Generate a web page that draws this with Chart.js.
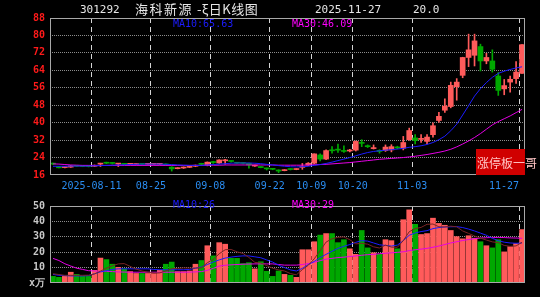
<!DOCTYPE html>
<html>
<head>
<meta charset="utf-8">
<script src="https://cdn.jsdelivr.net/npm/chart.js@4"></script>
<style>
  body { margin: 0; background: #000; width: 540px; height: 297px; overflow: hidden; position: relative; }
  canvas { position: absolute; left: 0; }
  .t { position: absolute; white-space: nowrap; line-height: 1; }
  .mono { font-family: "DejaVu Sans Mono", monospace; }
  .cjk { font-family: "Noto Sans CJK SC", sans-serif; }
</style>
</head>
<body>
<canvas id="kline" width="540" height="195" style="top:0"></canvas>
<canvas id="vol" width="540" height="102" style="top:195px"></canvas>

<div class="t mono" style="left:80px;top:4px;font-size:11px;color:#e6e6e6">301292</div>
<div class="t cjk" style="left:135px;top:2px;font-size:13px;letter-spacing:1.5px;color:#e6e6e6">海科新源</div>
<div class="t cjk" style="left:197px;top:2px;font-size:13px;letter-spacing:0.5px;color:#e6e6e6">-ξ日K线图</div>
<div class="t mono" style="left:315px;top:4px;font-size:11px;color:#e6e6e6">2025-11-27</div>
<div class="t mono" style="left:413px;top:4px;font-size:11px;color:#e6e6e6">20.0</div>

<div class="t mono" style="left:173px;top:19px;font-size:10px;color:#1c1cff">MA10:65.63</div>
<div class="t mono" style="left:292px;top:19px;font-size:10px;color:#ff00ff">MA30:46.09</div>
<div class="t mono" style="left:173px;top:200px;font-size:10px;color:#1c1cff">MA10:26</div>
<div class="t mono" style="left:292px;top:200px;font-size:10px;color:#ff00ff">MA30:29</div>

<div style="position:absolute;left:476px;top:149px;width:49px;height:26px;background:#d00000"></div>
<div class="t cjk" style="left:477px;top:157px;font-size:12px;color:#ffc4c4">涨停板一哥</div>

<script>
// 交易日 (2025-07-31 ~ 2025-11-27)
const dates = [
  '07-31',
  '08-01','08-04','08-05','08-06','08-07','08-08','08-11','08-12','08-13','08-14',
  '08-15','08-18','08-19','08-20','08-21','08-22','08-25','08-26','08-27','08-28','08-29',
  '09-01','09-02','09-03','09-04','09-05','09-08','09-09','09-10','09-11','09-12',
  '09-15','09-16','09-17','09-18','09-19','09-22','09-23','09-24','09-25','09-26','09-29','09-30',
  '10-09','10-10','10-13','10-14','10-15','10-16','10-17','10-20','10-21','10-22','10-23','10-24',
  '10-27','10-28','10-29','10-30','10-31',
  '11-03','11-04','11-05','11-06','11-07','11-10','11-11','11-12','11-13','11-14',
  '11-17','11-18','11-19','11-20','11-21','11-24','11-25','11-26','11-27'
];

const opens = [
  21.3,19.8,19.4,19.6,20.2,20.1,20.0,20.0,21.0,21.7,
  21.6,21.0,21.2,20.9,20.8,21.0,20.9,20.9,20.9,21.0,
  19.6,18.9,19.2,19.5,20.0,21.1,20.4,22.0,21.5,22.5,
  22.4,21.6,21.5,21.4,20.1,19.9,19.1,18.8,18.3,18.0,
  18.7,18.5,19.5,20.5,21.4,25.2,23.3,27.4,27.7,27.0,
  27.0,27.4,30.8,29.4,28.1,27.3,27.2,27.5,28.8,28.3,
  32.2,33.0,32.3,31.4,34.5,41.0,45.7,47.4,56.5,61.7,
  69.9,70.9,74.9,68.3,68.3,61.4,55.5,58.6,60.2,62.6
];
const highs = [
  21.5,20.0,19.8,20.4,20.4,20.2,20.1,20.6,21.4,21.9,
  21.7,21.2,21.3,21.2,21.1,21.1,21.1,21.1,21.2,21.1,
  19.8,19.4,19.7,20.0,20.6,21.4,22.0,22.3,23.0,23.2,
  22.5,21.8,21.6,21.5,20.5,20.0,19.2,18.9,18.4,18.5,
  18.9,18.9,21.3,21.7,25.7,25.7,27.5,29.0,30.2,29.4,
  27.8,31.6,32.2,29.8,29.8,27.6,29.8,29.9,29.2,33.7,
  37.5,34.5,34.5,34.5,39.9,44.7,50.9,58.6,60.2,70.0,
  80.6,80.6,76.0,71.8,73.4,63.0,59.8,61.4,68.0,75.8
];
const lows = [
  20.8,19.2,19.3,19.5,19.9,19.8,19.7,19.9,19.9,21.2,
  21.0,19.9,20.8,20.8,20.7,20.8,20.8,20.8,20.8,20.5,
  17.8,18.8,19.0,19.4,19.8,20.5,20.2,21.3,21.3,21.0,
  21.9,21.3,21.1,19.1,19.9,19.3,18.3,18.4,17.1,17.9,
  18.3,18.4,18.6,20.3,21.1,22.5,23.0,26.0,26.3,26.3,
  26.6,27.0,29.0,28.6,27.9,26.0,26.8,26.6,28.0,27.5,
  31.9,30.3,30.9,30.3,33.4,40.1,44.7,46.8,50.3,60.6,
  65.7,66.0,63.7,67.0,63.2,52.5,52.8,54.0,58.0,62.6
];
const closes = [
  21.0,19.3,19.6,20.2,20.0,19.9,19.9,20.4,21.3,21.4,
  21.3,21.1,20.9,21.0,21.0,20.9,21.0,21.0,21.1,20.6,
  18.8,19.2,19.5,19.8,20.5,20.9,21.9,21.7,22.9,22.6,
  22.2,21.4,21.3,20.6,20.3,19.4,18.8,18.6,17.8,18.3,
  18.5,18.7,19.8,21.4,25.7,23.3,27.2,27.1,27.4,26.8,
  27.2,31.4,30.5,29.0,28.5,26.8,28.8,29.0,28.4,30.9,
  36.4,31.8,32.8,33.4,38.6,42.9,47.6,57.1,58.6,69.9,
  73.4,77.5,68.3,69.9,64.5,54.8,57.0,59.9,63.2,75.8
];

// 均线
const ma10 = [
  20.0,20.0,20.0,20.1,20.1,20.1,20.1,20.2,20.3,20.4,
  20.5,20.6,20.7,20.8,20.9,21.0,21.0,21.0,21.0,20.9,
  20.8,20.6,20.5,20.4,20.4,20.4,20.6,20.8,21.0,21.2,
  21.4,21.5,21.5,21.5,21.4,21.2,20.9,20.6,20.3,20.0,
  19.8,19.7,19.8,20.0,20.4,20.8,21.3,21.9,22.6,23.3,
  24.0,24.8,25.6,26.3,26.8,27.1,27.4,27.6,27.9,28.2,
  28.7,29.0,29.4,30.0,30.9,32.2,33.8,36.3,39.3,43.5,
  47.8,52.2,55.6,58.4,60.8,62.6,63.6,64.4,65.1,65.63
];
const ma30 = [
  21.1,21.0,20.8,20.6,20.5,20.4,20.4,20.4,20.4,20.4,
  20.4,20.4,20.4,20.4,20.4,20.4,20.4,20.4,20.4,20.4,
  20.4,20.4,20.4,20.4,20.4,20.4,20.5,20.5,20.5,20.6,
  20.6,20.6,20.6,20.6,20.6,20.6,20.6,20.6,20.5,20.5,
  20.5,20.5,20.5,20.6,20.7,20.8,20.9,21.1,21.3,21.5,
  21.7,22.0,22.3,22.6,22.9,23.2,23.4,23.6,23.8,24.0,
  24.3,24.6,25.0,25.4,25.9,26.4,27.0,27.8,28.9,30.2,
  31.6,33.2,35.0,37.0,39.0,40.5,41.8,43.1,44.6,46.09
];

// 成交量 (万)
const volumes = [
  4.3,3.7,4.3,7.0,5.6,4.3,4.3,8.2,16.2,15.2,
  12.2,10.2,9.2,7.4,6.2,6.2,6.2,6.2,8.2,12.2,
  13.6,7.4,7.4,7.8,12.2,14.6,24.2,17.6,26.2,25.2,
  16.0,16.0,12.6,13.2,9.2,13.8,7.6,4.3,7.8,5.6,
  5.0,3.7,21.6,21.6,26.8,31.1,32.1,32.1,26.2,28.1,
  22.2,18.6,34.1,22.8,19.6,18.6,28.1,27.5,22.2,41.1,
  47.5,38.1,31.5,32.1,42.1,38.7,37.5,34.1,30.1,28.7,
  30.7,29.1,26.8,24.2,22.8,28.1,20.2,23.6,25.6,34.7
];
const volMa5 = [
  6.0,5.5,5.0,5.0,5.0,5.0,5.1,5.9,7.7,9.6,
  11.2,12.4,12.6,10.8,9.0,7.8,7.0,6.4,6.6,7.8,
  9.3,9.5,9.8,9.7,9.7,9.9,13.2,15.3,19.0,21.6,
  21.8,20.2,19.2,16.6,13.4,13.0,11.3,9.6,8.5,7.8,
  6.1,5.3,8.7,11.5,15.7,21.0,26.6,28.7,29.7,29.9,
  28.1,25.4,25.8,25.2,23.5,22.7,24.6,23.3,23.2,27.5,
  33.3,35.3,36.1,38.1,38.3,36.5,36.4,36.9,36.5,33.8,
  32.2,30.5,29.1,27.9,26.7,26.2,24.4,23.8,24.1,26.4
];
const volMa10 = [
  5.6,5.0,4.8,4.6,4.6,4.6,4.8,6.0,7.2,8.0,
  8.8,9.2,9.2,9.2,9.2,9.2,9.2,8.8,8.6,8.6,
  8.6,8.6,8.6,8.8,9.6,10.4,12.0,13.6,15.0,16.2,
  16.8,17.3,17.6,17.6,17.0,16.4,15.0,13.6,11.5,10.0,
  8.5,7.8,9.5,12.0,14.0,16.5,18.6,20.6,22.5,23.8,
  25.0,26.4,27.5,27.2,26.0,24.8,24.4,24.0,24.6,27.5,
  31.0,32.5,33.4,34.0,35.3,36.0,36.4,36.5,36.6,36.0,
  35.0,33.8,32.4,31.0,29.0,27.5,26.5,26.0,25.8,26.0
];
const volMa30 = [
  16.0,14.6,12.5,11.0,9.6,8.8,8.0,7.8,7.6,7.6,
  7.4,7.2,7.1,7.0,7.0,7.0,7.0,7.0,7.0,7.0,
  7.0,7.0,7.0,7.1,7.2,7.4,8.2,9.5,11.0,11.5,
  11.8,12.0,12.2,12.3,12.4,12.4,12.4,12.4,12.0,11.6,
  11.6,11.6,12.0,12.6,13.5,14.5,15.5,16.0,16.5,16.8,
  17.2,17.6,18.0,18.4,18.6,19.0,19.3,19.6,19.9,20.3,
  21.0,21.6,22.0,22.5,23.2,24.0,25.0,26.0,26.8,27.6,
  28.2,28.8,29.2,29.4,29.6,29.6,29.5,29.3,29.2,29.0
];

// 横轴标注的日期
const markDays = ['08-11','08-25','09-08','09-22','10-09','10-20','11-03','11-27'];
const markLabels = ['2025-08-11','08-25','09-08','09-22','10-09','10-20','11-03','11-27     '];

const RED = '#ff5b5b';
const GREEN = '#00a800';
const colors = closes.map((c, i) => c >= opens[i] ? RED : GREEN);
const markIdx = markDays.map(d => dates.indexOf(d));

// 外框
const frame = {
  id: 'frame',
  afterDraw(chart) {
    const {ctx, chartArea: a} = chart;
    ctx.save();
    ctx.strokeStyle = '#a8a8a8';
    ctx.lineWidth = 1;
    ctx.strokeRect(Math.round(a.left) + 0.5, Math.round(a.top) + 0.5,
      Math.round(a.right - a.left) - 1, Math.round(a.bottom - a.top) - 1);
    ctx.restore();
  }
};

function xScale(showTicks) {
  return {
    type: 'category',
    offset: true,
    grid: {
      offset: true,
      drawTicks: false,
      lineWidth: 1,
      color: c => markIdx.includes(c.index) ? '#d4d4d4' : 'transparent'
    },
    border: { display: false, dash: [5, 4] },
    ticks: {
      display: showTicks,
      autoSkip: false,
      maxRotation: 0,
      minRotation: 0,
      labelOffset: -3,
      padding: 5,
      color: '#2a8cf0',
      font: { family: 'DejaVu Sans Mono', size: 10 },
      callback: (v, i) => {
        const k = markIdx.indexOf(i);
        return k >= 0 ? markLabels[k] : '';
      }
    },
    afterFit(s) {
      s.height = showTicks ? 20 : 0;
      s.paddingLeft = 0;
      s.paddingRight = 0;
    }
  };
}

function yTicks(step, color, cb) {
  const t = {
    stepSize: step, padding: 5, color: color, autoSkip: false,
    font: { family: 'DejaVu Sans Mono', size: 10, weight: 'bold' }
  };
  if (cb) t.callback = cb;
  return t;
}

function lineSet(data, color, order) {
  return {
    type: 'line', data: data, borderColor: color, borderWidth: 1,
    pointRadius: 0, tension: 0, order: order
  };
}

new Chart(document.getElementById('kline'), {
  type: 'bar',
  data: {
    labels: dates,
    datasets: [
      lineSet(ma10, '#1c1cff', 0),
      lineSet(ma30, '#e600e6', 0),
      {
        data: opens.map((o, i) => [o, closes[i]]),
        backgroundColor: colors,
        barThickness: 5,
        minBarLength: 1,
        grouped: false,
        order: 1
      },
      {
        data: lows.map((l, i) => [l, highs[i]]),
        backgroundColor: colors,
        barThickness: 1,
        grouped: false,
        order: 2
      }
    ]
  },
  options: {
    responsive: false,
    animation: false,
    devicePixelRatio: 1,
    layout: { padding: { top: 18, right: 15, left: 0, bottom: 0 } },
    plugins: { legend: { display: false }, tooltip: { enabled: false } },
    scales: {
      x: xScale(true),
      y: {
        min: 16, max: 88,
        grid: {
          drawTicks: false,
          color: c => (c.tick.value === 16 || c.tick.value === 88) ? 'transparent' : '#8c8c8c'
        },
        border: { display: false, dash: [1, 1] },
        ticks: yTicks(8, '#ff1a1a'),
        afterFit(s) { s.width = 50; }
      }
    }
  },
  plugins: [frame]
});

new Chart(document.getElementById('vol'), {
  type: 'bar',
  data: {
    labels: dates,
    datasets: [
      lineSet(volMa5, '#7a2424', 0),
      lineSet(volMa10, '#1c1cff', 0),
      lineSet(volMa30, '#e600e6', 0),
      {
        data: volumes,
        backgroundColor: colors,
        barThickness: 5,
        grouped: false,
        order: 1
      }
    ]
  },
  options: {
    responsive: false,
    animation: false,
    devicePixelRatio: 1,
    layout: { padding: { top: 4, right: 15, left: 0, bottom: 14 } },
    plugins: { legend: { display: false }, tooltip: { enabled: false } },
    scales: {
      x: xScale(false),
      y: {
        min: 0, max: 50,
        grid: {
          drawTicks: false,
          color: c => (c.tick.value === 0 || c.tick.value === 50) ? 'transparent' : '#8c8c8c'
        },
        border: { display: false, dash: [1, 1] },
        ticks: yTicks(10, '#c8c8c8', v => v === 0 ? 'x万' : v),
        afterFit(s) { s.width = 50; }
      }
    }
  },
  plugins: [frame]
});
</script>
</body>
</html>
